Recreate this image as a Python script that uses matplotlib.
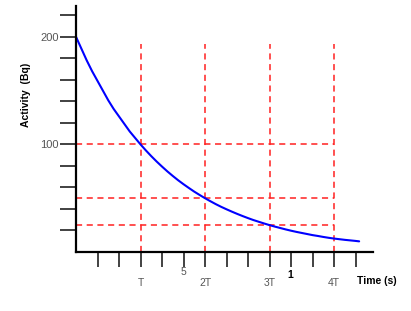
import matplotlib
matplotlib.use('Agg')
import matplotlib.pyplot as plt

plt.rcParams['font.family'] = ['Liberation Sans', 'DejaVu Sans']

# activity, every T/12 (time in units of the half-life T)
t_vals = [k / 12 for k in range(0, 53)] + [4.39]
activity = [200, 189, 178, 168, 159, 150, 141, 133, 126, 119, 112, 106,
            100, 94.4, 89.1, 84.1, 79.4, 74.9, 70.7, 66.7, 63.0, 59.5, 56.1, 53.0,
            50, 47.2, 44.5, 42.0, 39.7, 37.5, 35.4, 33.4, 31.5, 29.7, 28.1, 26.5,
            25, 23.6, 22.3, 21.0, 19.8, 18.7, 17.7, 16.7, 15.7, 14.9, 14.0, 13.2,
            12.5, 11.9, 11.3, 10.8, 10.3, 9.9]

half_times = [1, 2, 3, 4]
half_labels = ['T', '2T', '3T', '4T']
half_levels = [100, 50, 25]
x_ticks = [k / 3 for k in range(1, 14)]
y_ticks = list(range(20, 221, 20))
y_labels = {100: '100', 200: '200'}

W, H = 411, 311
fig = plt.figure(figsize=(W / 100, H / 100), dpi=100)
x0, y0 = 76, 252
ax = fig.add_axes([x0 / W, (H - y0) / H, 297 / W, 246 / H])
ax.set_xlim(0, 297 / 64.5)
ax.set_ylim(0, 246 / 1.076)

for s in ['top', 'right']:
    ax.spines[s].set_visible(False)
for s in ['left', 'bottom']:
    ax.spines[s].set_linewidth(1.6)
    ax.spines[s].set_color('black')

# guide lines
for tx in half_times:
    ax.plot([tx, tx], [0, 193], color='#ff2020', lw=1.1, ls=(0, (4, 3)))
for lv in half_levels:
    ax.plot([0, 4], [lv, lv], color='#ff2020', lw=1.1, ls=(0, (4, 3)))

ax.plot(t_vals, activity, color='#0000ff', lw=1.5, solid_capstyle='round',
        solid_joinstyle='round')

ax.set_yticks(y_ticks)
ax.set_yticklabels([y_labels.get(v, '') for v in y_ticks])
ax.tick_params(axis='y', direction='out', length=11.5, width=1.3,
               color='#333333', labelsize=8, labelcolor='#555555', pad=1)
ax.set_xticks(x_ticks)
ax.set_xticklabels([])
ax.tick_params(axis='x', direction='out', length=11, width=1.3,
               color='#333333')

for tx, lb in zip(half_times, half_labels):
    ax.text(tx, -29.0, lb, ha='center', va='center', fontsize=7.5,
            color='#555555')

ax.text(5 / 3, -19.0, '5', ha='center', va='center', fontsize=7.5,
        color='#555555')
ax.text(10 / 3 - 0.01, -21.5, '1', ha='center', va='center', fontsize=7.5,
        color='black', fontweight='bold')

fig.text(377 / W, 1 - 281 / H, 'Time (s)', ha='center', va='center',
         fontsize=7.5, fontweight='bold')
fig.text(26 / W, 1 - 95 / H, 'Activity  (Bq)', ha='center', va='center',
         fontsize=7.5, fontweight='bold', rotation=90)

fig.savefig('out.png', dpi=100)
